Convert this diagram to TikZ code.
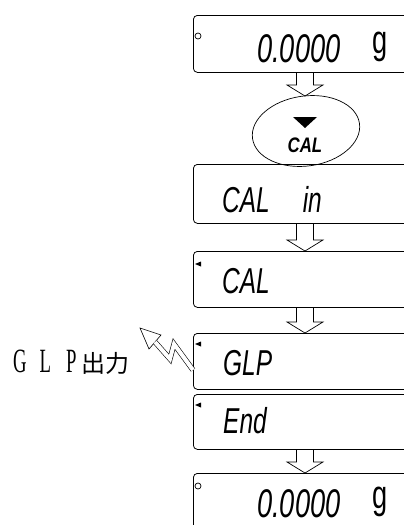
\documentclass[tikz,border=0pt]{standalone}
\usepackage{fontspec}
\usepackage{tikz}
\usetikzlibrary{calc,shapes.geometric}
\newfontfamily\lcdfont[FakeStretch=0.68]{Liberation Sans}
\newfontfamily\keyfont[FakeStretch=0.8]{Liberation Sans}
\newfontfamily\glpfont[FakeStretch=0.55]{Liberation Serif}
\newfontfamily\cjk{Noto Sans CJK JP}

% hollow down arrow between two nodes, on the arrow axis
\newcommand{\fatarrow}[2]{%
	\draw[hollow] ($(#1.south -| axis)+(-8.5,0)$) -- ($(#2.north -| axis)+(-8.5,11)$) -- ++(-9.5,0)
		-- (#2.north -| axis) -- ++(18,11) -- ++(-9.5,0) -- ($(#1.south -| axis)+(8.5,0)$);}

\begin{document}
\begin{tikzpicture}[x=1pt,y=1pt,
	lcd/.style={draw, rounded corners=4pt, line width=0.8pt, minimum width=250pt, anchor=north west, inner sep=0pt},
	seg/.style={font=\lcdfont\itshape\fontsize{36}{36}\selectfont, anchor=base west, inner sep=0pt},
	digits/.style={font=\lcdfont\itshape\fontsize{40}{40}\selectfont, anchor=base west, inner sep=0pt},
	unit/.style={font=\lcdfont\fontsize{40}{40}\selectfont, anchor=base west, inner sep=0pt},
	hollow/.style={line width=0.7pt, line join=miter},
	ring/.style={circle, draw, line width=0.7pt, minimum size=6pt, inner sep=0pt}]
		\useasboundingbox (0,0) rectangle (404,-525);
		\clip (0,0) rectangle (404,-525);
		\coordinate (axis) at (305,0);
		% displays
		\node [lcd, minimum height=57pt] (zero) at (193,-15) {};
		\node [lcd, minimum height=59pt] (calin) at (193,-164) {};
		\node [lcd, minimum height=56pt] (cal) at (193,-251) {};
		\node [lcd, minimum height=56pt] (glp) at (193,-333) {};
		\node [lcd, minimum height=55pt] (endbox) at (193,-394) {};
		\node [lcd, minimum height=70pt] (zeroend) at (193,-473) {};
		% display contents
		\node [ring] (zeroring) at (198,-36) {};
		\node [digits] (zeroval) at (257,-62) {0.0000};
		\node [unit] (zerounit) at (372,-53) {g};
		\node [seg] (calintext) at (222,-212) {CAL\hspace{33pt}in};
		\fill (195,-264) -- (201,-261.5) -- (201,-266.5) -- cycle;
		\node [seg] (caltext) at (222,-293) {CAL};
		\fill (195,-344) -- (201,-341.5) -- (201,-346.5) -- cycle;
		\node [seg] (glptext) at (223,-375) {GLP};
		\fill (195,-405) -- (201,-402.5) -- (201,-407.5) -- cycle;
		\node [seg] (endtext) at (223,-433) {End};
		\node [ring] (endring) at (198,-486) {};
		\node [digits] (endval) at (257,-517) {0.0000};
		\node [unit] (endunit) at (372,-508) {g};
		% CAL key
		\node [ellipse, draw, line width=0.7pt, minimum width=108pt, minimum height=70pt, rotate=8, inner sep=0pt] (key) at (306,-131) {};
		\fill (293,-117) -- (317,-117) -- (305,-128) -- cycle;
		\node [font=\keyfont\bfseries\itshape\fontsize{21}{21}\selectfont, inner sep=0pt] (keylabel) at (305,-145) {CAL};
		% arrows
		\fatarrow{zero}{key}
		\fatarrow{calin}{cal}
		\fatarrow{cal}{glp}
		\fatarrow{endbox}{zeroend}
		% GLP output
		\node [anchor=base west, inner sep=0pt] (output) at (13,-372) {\glpfont\fontsize{34}{34}\selectfont G\hspace{13pt}L\hspace{15pt}P\hspace{5pt}\cjk\fontsize{24}{24}\selectfont 出力};
		\coordinate (boltstart) at (193,-370);
		\filldraw [fill=white, line width=0.6pt, line join=miter] (140,-328) -- (161,-335) -- (149,-349) -- cycle;
		\draw [line width=0.6pt, double=white, double distance=4pt, line join=miter] (boltstart) -- (174,-344) -- (170,-359) -- (155,-342);
\end{tikzpicture}
\end{document}
